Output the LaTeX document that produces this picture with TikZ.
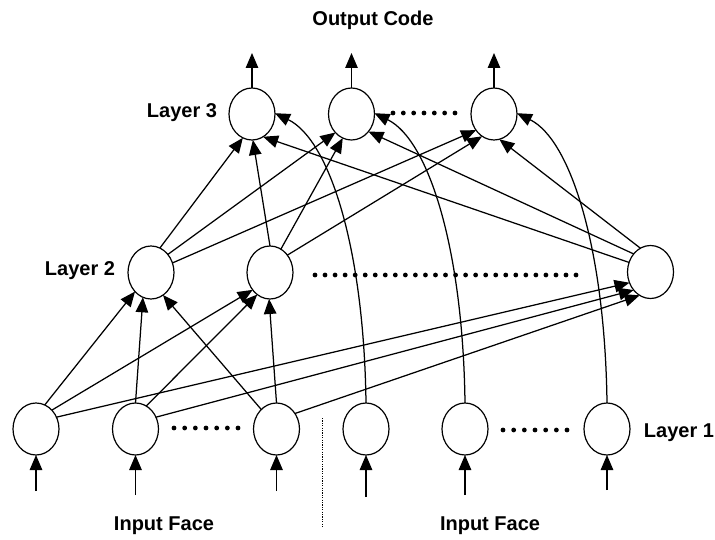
\documentclass[tikz,border=0pt]{standalone}
\usepackage{fontspec}
\setmainfont{Liberation Sans}
\usetikzlibrary{shapes.geometric,arrows.meta}

\begin{document}
\begin{tikzpicture}[x=1pt,y=-1pt,
  neuron/.style={ellipse,draw,line width=1.2pt,minimum width=46pt,minimum height=52pt,inner sep=0pt,outer sep=0pt},
  wire/.style={line width=1.25pt,-{Triangle[length=15pt,width=12.5pt]}},
  lbl/.style={font=\fontsize{20}{24}\selectfont\bfseries,inner sep=0pt},
  dot/.style={fill=black,draw=none},
]
\useasboundingbox (0,0) rectangle (715,540);

% layer 3 (output units)
\node[neuron] (c1) at (252,114) {};
\node[neuron] (c2) at (351.5,114) {};
\node[neuron] (c3) at (494,114) {};

% layer 2 (hidden units)
\node[neuron,minimum height=53pt] (b1) at (151,272.5) {};
\node[neuron,minimum height=53pt] (b2) at (270,272.5) {};
\node[neuron,minimum height=53pt] (b3) at (650.5,272) {};

% layer 1 (input units)
\node[neuron] (a1) at (36,429) {};
\node[neuron] (a2) at (135.5,429) {};
\node[neuron] (a3) at (276.5,429) {};
\node[neuron] (a4) at (366,429) {};
\node[neuron] (a5) at (465,429) {};
\node[neuron] (a6) at (607,429) {};

% labels
\node[lbl] (title) at (373,20) {Output Code};
\node[lbl] (l3) at (182,113) {Layer 3};
\node[lbl] (l2) at (80,271) {Layer 2};
\node[lbl] (l1) at (679,433) {Layer 1};
\node[lbl] (f1) at (164,526) {Input Face};
\node[lbl] (f2) at (490,526) {Input Face};

% outputs
\coordinate (o1) at (252,53);
\coordinate (o2) at (351.5,53);
\coordinate (o3) at (494,53);
\draw[wire] (c1.north) -- (o1);
\draw[wire] (c2.north) -- (o2);
\draw[wire] (c3.north) -- (o3);

% inputs
\coordinate (i1) at (36,491);
\coordinate (i2) at (135.5,495);
\coordinate (i3) at (276.5,491);
\coordinate (i4) at (366,497);
\coordinate (i5) at (465,495);
\coordinate (i6) at (607,490);
\draw[wire] (i1) -- (a1.south);
\draw[wire] (i2) -- (a2.south);
\draw[wire] (i3) -- (a3.south);
\draw[wire] (i4) -- (a4.south);
\draw[wire] (i5) -- (a5.south);
\draw[wire] (i6) -- (a6.south);

% layer 1 -> layer 2
\draw[wire] (a1.70) -- (b1.230);
\draw[wire] (a2.90) -- (b1.252);
\draw[wire] (a3.128) -- (b1.298);
\draw[wire] (a1.50) -- (b2.225);
\draw[wire] (a2.65) -- (b2.240);
\draw[wire] (a3.90) -- (b2.268);
\draw[wire] (a1.30) -- (b3.207);
\draw[wire] (a2.30) -- (b3.227);
\draw[wire] (a3.40) -- (b3.245);

% layer 2 -> layer 3
\draw[wire] (b1.70) -- (c1.249);
\draw[wire] (b1.47) -- (c2.229);
\draw[wire] (b1.24) -- (c3.222);
\draw[wire] (b2.90) -- (c1.272);
\draw[wire] (b2.65) -- (c2.250);
\draw[wire] (b2.45) -- (c3.242);
\draw[wire] (b3.156) -- (c1.296);
\draw[wire] (b3.133) -- (c2.314);
\draw[wire] (b3.113) -- (c3.282);

% layer 1 -> layer 3 skip connections
\draw[wire] (a4.north) .. controls (364,250) and (330,140) .. (c1.2);
\draw[wire] (a5.north) .. controls (463,250) and (429,140) .. (c2.2);
\draw[wire] (a6.north) .. controls (605,250) and (571,140) .. (c3.2);

% ellipsis rows
\foreach \k in {0,...,6} \fill[dot] (393+10.33*\k,113) circle (2.4pt);
\foreach \k in {0,...,26} \fill[dot] (315+10.04*\k,275) circle (2.4pt);
\foreach \k in {0,...,6} \fill[dot] (174+10.67*\k,428) circle (2.4pt);
\foreach \k in {0,...,6} \fill[dot] (503+10.67*\k,430) circle (2.4pt);

% separator between the two input faces
\draw[line width=1pt,dash pattern=on 1.2pt off 1.2pt] (322,418) -- (322,527);
\end{tikzpicture}
\end{document}
